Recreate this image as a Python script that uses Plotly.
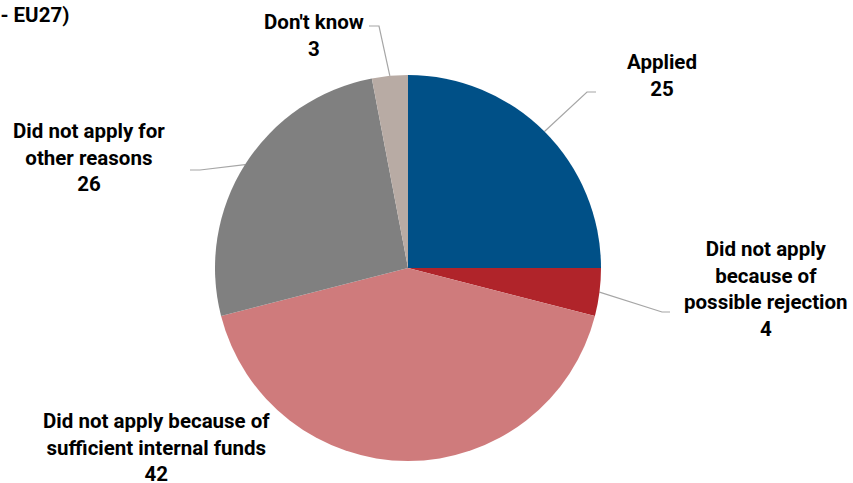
import math
import plotly.graph_objects as go

# ---- data ----
categories = ["Applied", "Did not apply because of possible rejection",
              "Did not apply because of sufficient internal funds",
              "Did not apply for other reasons", "Don't know"]
values = [25, 4, 42, 26, 3]
label_text = ["Applied", "Did not apply<br>because of<br>possible rejection",
              "Did not apply because of<br>sufficient internal funds",
              "Did not apply for<br>other reasons", "Don't know"]
colors = ["#005087", "#b0242a", "#cf7b7c", "#808080", "#b8aba4"]

W, H = 853, 483
CX, CY, R = 408, 268, 193
FS = 20.5

# label layout (pixel positions of label centre/top, elbow of leader line, end of leader line)
label_pos = [(662, 48), (766, 235), (156, 407), (89, 117), (314, 8)]
elbows = [(587, 92), (662, 312), None, (200, 170), (379, 26)]
line_ends = [(596, 92), (670, 312), None, (190, 170), (369, 26)]

fig = go.Figure()
fig.add_trace(go.Pie(
    labels=categories, values=values, sort=False, direction="clockwise",
    rotation=0, marker=dict(colors=colors, line=dict(width=0)),
    textinfo="none", hoverinfo="label+value", showlegend=False,
    domain=dict(x=[(CX - R) / W, (CX + R) / W], y=[(H - CY - R) / H, (H - CY + R) / H]),
))

total = sum(values)
cum = 0
for i, v in enumerate(values):
    mid = (cum + v / 2) / total * 2 * math.pi
    cum += v
    if elbows[i] is not None:
        ex, ey = CX + R * math.sin(mid), CY - R * math.cos(mid)
        xs = [ex, elbows[i][0], line_ends[i][0]]
        ys = [ey, elbows[i][1], line_ends[i][1]]
        fig.add_trace(go.Scatter(x=xs, y=ys, mode="lines", line=dict(color="#a6a6a6", width=1.2),
                                 hoverinfo="skip", showlegend=False, xaxis="x", yaxis="y"))
    lx, ly = label_pos[i]
    fig.add_annotation(x=lx, y=ly, xref="x", yref="y", xanchor="center", yanchor="top",
                       text=f"<b>{label_text[i]}<br>{v}</b>", showarrow=False, align="center",
                       font=dict(family="Roboto", size=FS, color="#000000"))

fig.add_annotation(x=71, y=1, xref="x", yref="y", xanchor="right", yanchor="top",
                   text="<b>(% - EU27)</b>", showarrow=False,
                   font=dict(family="Roboto", size=FS, color="#000000"))

fig.update_layout(
    width=W, height=H, margin=dict(l=0, r=0, t=0, b=0),
    paper_bgcolor="white", plot_bgcolor="rgba(0,0,0,0)",
    xaxis=dict(range=[0, W], visible=False, domain=[0, 1], fixedrange=True),
    yaxis=dict(range=[H, 0], visible=False, domain=[0, 1], fixedrange=True),
)
fig.write_html("out.html")
